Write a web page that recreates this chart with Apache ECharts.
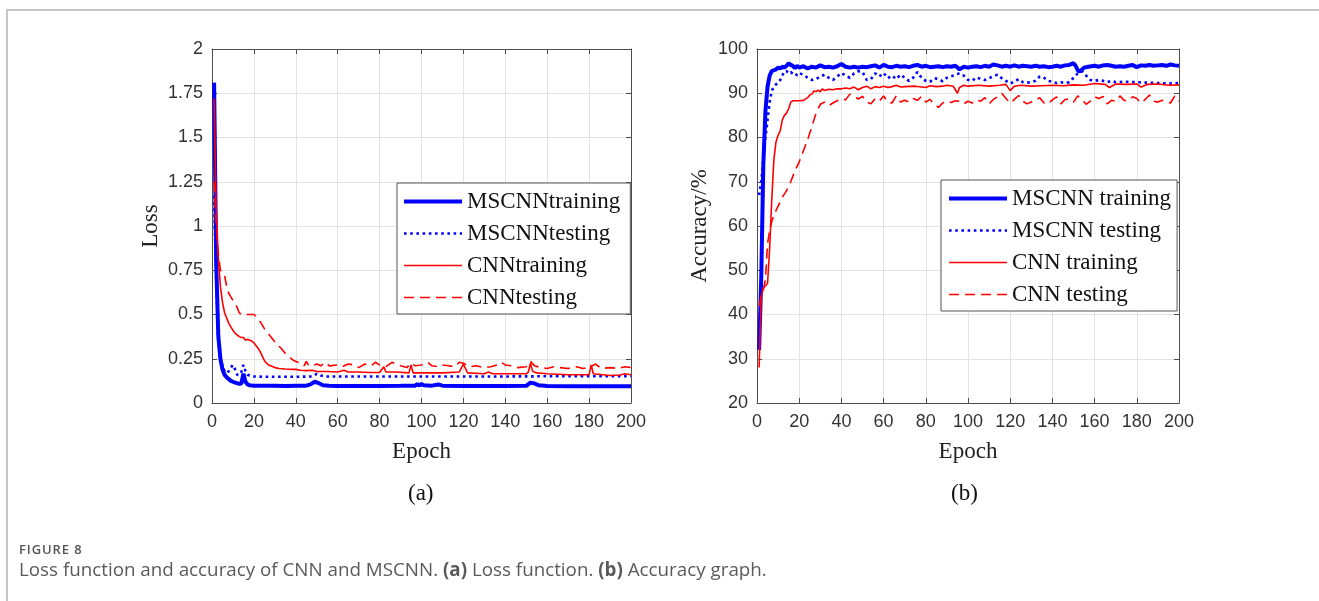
<!DOCTYPE html>
<html>
<head>
<meta charset="utf-8">
<script src="https://cdn.jsdelivr.net/npm/echarts@6/dist/echarts.min.js"></script>
<style>
  html, body { margin: 0; padding: 0; background: #fff; width: 1319px; height: 601px; overflow: hidden; }
  #frame { position: absolute; left: 6px; top: 9px; width: 1330px; height: 620px; border-top: 2px solid #c6c6c6; border-left: 2px solid #c6c6c6; }
  #chart { position: absolute; left: 0; top: 0; width: 1319px; height: 601px; }
  #figlabel { position: absolute; left: 19px; top: 540px; font-family: "Open Sans", "Noto Sans", sans-serif; font-size: 13px; font-weight: 600; color: #555; letter-spacing: 0.9px; }
  #caption { position: absolute; left: 19px; top: 556px; font-family: "Open Sans", "Noto Sans", sans-serif; font-size: 18.8px; color: #5a5a5a; }
  #caption b { font-weight: 700; }
</style>
</head>
<body>
<div id="frame"></div>
<div id="chart"></div>
<div id="figlabel">FIGURE 8</div>
<div id="caption">Loss function and accuracy of CNN and MSCNN. <b>(a)</b> Loss function. <b>(b)</b> Accuracy graph.</div>
<script>
// ---------- Data (epoch, value) ----------
const epochTicks = [0, 20, 40, 60, 80, 100, 120, 140, 160, 180, 200];
const lossTicks = [0, 0.25, 0.5, 0.75, 1, 1.25, 1.5, 1.75, 2];
const accTicks = [20, 30, 40, 50, 60, 70, 80, 90, 100];

const lossNames = ["MSCNNtraining", "MSCNNtesting", "CNNtraining", "CNNtesting"];
const accNames = ["MSCNN training", "MSCNN testing", "CNN training", "CNN testing"];

const lossMscnnTrain = [
  [1,1.81],[2,0.80],[3,0.38],[4,0.25],[5,0.19],[6,0.16],[7,0.145],[8,0.135],[9,0.125],[10,0.12],
  [11,0.115],[12,0.112],[13,0.108],[14,0.11],[15,0.165],[16,0.12],[17,0.105],[18,0.1],[20,0.098],[25,0.097],
  [30,0.097],[35,0.096],[40,0.097],[45,0.098],[47,0.105],[49,0.12],[51,0.112],[53,0.1],[56,0.097],[60,0.096],
  [70,0.096],[80,0.096],[90,0.097],[97,0.098],[98,0.107],[99,0.099],[100,0.108],[101,0.1],[105,0.098],[108,0.105],
  [110,0.098],[120,0.096],[130,0.096],[140,0.096],[150,0.097],[152,0.115],[154,0.11],[156,0.1],[160,0.096],[170,0.095],
  [180,0.095],[190,0.095],[200,0.095]
];
const lossMscnnTest = [
  [1,1.17],[2,0.7],[3,0.35],[4,0.26],[5,0.21],[6,0.18],[7,0.17],[8,0.18],[9,0.2],[10,0.215],
  [11,0.19],[12,0.16],[13,0.158],[14,0.175],[15,0.215],[16,0.18],[17,0.16],[18,0.155],[20,0.15],[25,0.148],
  [30,0.148],[40,0.148],[48,0.15],[50,0.165],[52,0.155],[55,0.15],[60,0.15],[80,0.15],[100,0.15],[120,0.15],
  [140,0.15],[160,0.151],[180,0.151],[200,0.152]
];
const lossCnnTrain = [
  [1,1.72],[2,1.1],[3,0.82],[4,0.66],[5,0.57],[6,0.51],[7,0.48],[8,0.45],[9,0.43],[10,0.41],
  [11,0.395],[12,0.385],[13,0.375],[14,0.37],[15,0.37],[16,0.355],[17,0.36],[18,0.355],[19,0.35],[20,0.34],
  [21,0.325],[22,0.31],[23,0.29],[24,0.265],[25,0.24],[26,0.225],[27,0.215],[28,0.21],[30,0.2],[32,0.195],
  [35,0.192],[38,0.19],[40,0.19],[42,0.185],[45,0.183],[48,0.185],[50,0.178],[55,0.178],[60,0.175],[63,0.185],
  [65,0.175],[70,0.175],[75,0.172],[80,0.172],[82,0.205],[83,0.175],[88,0.175],[94,0.17],[95,0.215],[96,0.17],
  [100,0.17],[110,0.17],[118,0.175],[120,0.22],[122,0.17],[130,0.165],[132,0.175],[134,0.165],[140,0.165],[150,0.165],
  [151,0.175],[152,0.225],[153,0.18],[155,0.17],[160,0.165],[170,0.16],[180,0.16],[181,0.215],[182,0.165],[190,0.155],
  [195,0.158],[197,0.165],[200,0.16]
];
const lossCnnTest = [
  [1,1.25],[2,1.0],[3,0.85],[4,0.75],[5,0.74],[6,0.72],[7,0.66],[8,0.62],[9,0.6],[10,0.58],
  [11,0.56],[12,0.54],[13,0.51],[14,0.5],[16,0.5],[18,0.5],[20,0.5],[21,0.49],[22,0.47],[23,0.46],
  [24,0.44],[25,0.42],[27,0.39],[29,0.36],[31,0.33],[33,0.31],[35,0.28],[37,0.26],[39,0.24],[41,0.23],
  [43,0.225],[44,0.21],[45,0.235],[46,0.215],[48,0.21],[50,0.22],[52,0.21],[54,0.23],[56,0.21],[60,0.215],
  [62,0.205],[65,0.22],[68,0.215],[70,0.2],[73,0.22],[76,0.21],[78,0.23],[80,0.215],[83,0.205],[86,0.23],
  [88,0.22],[90,0.21],[93,0.2],[95,0.225],[97,0.21],[100,0.215],[103,0.23],[105,0.21],[108,0.205],[110,0.215],
  [113,0.21],[116,0.205],[118,0.23],[120,0.225],[123,0.205],[126,0.21],[130,0.2],[133,0.205],[136,0.215],[138,0.23],
  [140,0.215],[143,0.21],[146,0.2],[150,0.205],[152,0.235],[154,0.21],[157,0.2],[160,0.195],[163,0.205],[166,0.2],
  [170,0.195],[174,0.205],[177,0.195],[180,0.2],[183,0.22],[186,0.195],[190,0.2],[194,0.195],[197,0.205],[200,0.2]
];

const accMscnnTrain = [
  [1,32],[2,48],[3,74],[4,86],[5,91.5],[6,94],[7,95],[8,95.2],[9,95.4],[10,95.8],
  [11,95.6],[12,96],[13,95.8],[14,96.2],[15,96.8],[16,96.4],[17,96.2],[18,95.7],[19,96.2],[20,95.8],
  [22,96.1],[24,95.6],[26,96],[28,95.8],[30,96.3],[32,95.9],[34,96],[36,95.8],[38,96.1],[40,96.6],
  [42,96],[44,95.8],[46,96],[48,95.8],[50,96],[52,95.9],[54,96.1],[56,96.3],[58,95.8],[60,96.4],
  [62,96],[64,95.9],[66,96.2],[68,96],[70,96.1],[72,95.9],[74,96.2],[76,96.4],[78,96],[80,96.2],
  [82,95.9],[84,96],[86,96.1],[88,95.9],[90,96.1],[92,96],[94,96.2],[96,95.4],[98,96],[100,95.8],
  [102,96],[104,96.1],[106,95.9],[108,96.2],[110,96],[112,96.5],[114,96.3],[116,96],[118,96.2],[120,96],
  [122,96.3],[124,96],[126,96.2],[128,96.1],[130,96],[132,96.2],[134,96],[136,96.1],[138,95.9],[140,96],
  [142,96.2],[144,96],[146,96.3],[148,96.4],[150,96.8],[151,96.2],[152,95.2],[153,94.9],[155,95.8],[157,96],
  [160,96.2],[162,96],[164,96.3],[166,96.4],[168,96.2],[170,96],[172,96.1],[174,96],[176,96.2],[178,96.4],
  [180,95.9],[182,96.3],[184,96.2],[186,96.4],[188,96.2],[190,96.3],[192,96.4],[194,96.2],[196,96.5],[198,96.3],
  [200,96.2]
];
const accMscnnTest = [
  [1,67],[2,70],[3,75],[4,80],[5,84],[6,88],[7,90.5],[8,91.5],[9,92],[10,92.3],
  [11,93],[12,94],[13,95],[14,95],[15,94.5],[16,94.8],[17,94.4],[18,94.6],[19,94],[20,94.5],
  [22,94.2],[24,93.5],[26,93],[28,93.2],[30,93.8],[32,94.2],[34,93.5],[36,93],[38,93.8],[40,94.6],
  [42,94],[44,93.5],[46,94.5],[48,95],[50,94.8],[52,93],[54,93.2],[56,94.5],[58,93.8],[60,94.6],
  [62,93.4],[64,94],[66,93.2],[68,94.2],[70,93.5],[72,92.8],[74,93.5],[76,94.8],[78,93.5],[80,92.8],
  [82,92.6],[84,93.4],[86,93.2],[88,92.7],[90,93.5],[92,93.8],[94,94.2],[96,94.5],[98,94],[100,93],
  [102,92.8],[104,93.6],[106,93.2],[108,93],[110,93.4],[112,93.8],[114,94.2],[116,93.4],[118,92.8],[120,92.2],
  [122,92.6],[124,93.2],[126,92.5],[128,92.4],[130,92.5],[132,92.8],[134,93.8],[136,93.5],[138,92.8],[140,92.6],
  [142,92.3],[144,92.5],[146,92.3],[148,92.5],[150,93.5],[152,94.5],[154,95],[156,94],[158,93],[160,92.8],
  [162,93],[164,92.8],[166,92.5],[168,92.8],[170,92.5],[175,92.6],[180,92.5],[185,92.4],[190,92.3],[195,92.2],
  [200,92.3]
];
const accCnnTrain = [
  [1,28],[2,44],[3,46],[4,46.5],[5,47],[6,55],[7,66],[8,75],[9,79],[10,80.5],
  [11,81.5],[12,84],[13,85],[14,85.5],[15,86.5],[16,88],[17,88.3],[18,88.3],[20,88.3],[22,88.4],
  [24,89],[25,89.6],[26,89.8],[27,90.5],[28,90.4],[29,90.7],[30,90.3],[31,91],[32,90.6],[34,90.9],
  [36,90.8],[38,91],[40,91],[42,91.2],[44,91],[46,91.4],[48,90.8],[50,91.3],[52,91.6],[54,91],
  [56,91.5],[58,91.3],[60,91.6],[62,91.3],[64,91.5],[66,91.8],[68,91.4],[70,91.5],[75,91.6],[80,91.3],
  [82,91.7],[85,91.5],[88,91.6],[90,91.8],[93,91.6],[95,90],[96,91.3],[98,91.8],[100,91.6],[105,91.8],
  [110,91.6],[115,91.8],[118,92],[120,90.6],[122,91.6],[125,91.8],[130,91.6],[135,91.7],[140,91.8],[145,91.7],
  [150,91.9],[155,91.8],[160,92.2],[165,92],[167,91.3],[170,92.1],[175,92],[180,92.1],[182,91.4],[185,92],
  [190,92.1],[195,91.8],[200,91.9]
];
const accCnnTest = [
  [1,42],[2,44],[3,45.5],[4,48],[5,56],[6,59],[7,61],[8,62.5],[9,63.5],[10,64.5],
  [12,66.5],[14,68],[16,70],[18,72.5],[20,74.5],[22,77],[24,79.5],[26,82.5],[28,85.5],[30,87.5],
  [32,88],[34,87.2],[36,87.8],[38,88.3],[40,88.8],[42,88.5],[44,89.8],[46,89.4],[48,88.7],[50,89.3],
  [52,88],[54,87.6],[56,88.8],[58,88.2],[60,89.4],[62,88],[64,87.8],[66,89.4],[68,88],[70,88.4],
  [72,88],[74,88.8],[76,88.4],[78,89.3],[80,88],[82,88.6],[84,87.5],[86,86.8],[88,87.8],[90,88.2],
  [92,87.9],[94,88.3],[96,88.2],[98,87.6],[100,88.2],[102,87.8],[104,88.5],[106,88.2],[108,89],[110,87.6],
  [112,88.6],[114,89.2],[116,90],[118,88.8],[120,87.8],[122,88.6],[124,89.5],[126,88.2],[128,87.6],[130,88],
  [132,88.4],[134,89],[136,87.8],[138,87.6],[140,88.5],[142,89.2],[144,87.6],[146,88.6],[148,88.7],[150,88],
  [152,89.4],[154,88.6],[156,87.5],[158,88.2],[160,89.2],[162,88.8],[164,89.3],[166,87.6],[168,88.4],[170,88.2],
  [172,89.4],[174,88.4],[176,88.3],[178,89.2],[180,88.8],[182,87.8],[184,88.6],[186,89.6],[188,88.2],[190,88],
  [192,88.4],[194,88],[196,87.8],[198,89.4],[200,88.2]
];

// ---------- Styles ----------
const BLUE = '#0000ff', RED = '#ff0000';
const AX = '#4d4d4d', GRIDC = '#e3e3e3', LBL = '#333333';
const SANS = 'Liberation Sans, Arial, sans-serif';
const SERIF = 'Liberation Serif, Times New Roman, serif';

const styles = [
  { color: BLUE, width: 4, type: 'solid' },
  { color: BLUE, width: 2.6, type: [2.6, 3.6] },
  { color: RED, width: 1.6, type: 'solid' },
  { color: RED, width: 1.6, type: [10, 6] }
];

function xAxes(gi) {
  return [
    { type: 'value', gridIndex: gi, min: epochTicks[0], max: epochTicks[epochTicks.length - 1],
      interval: epochTicks[1] - epochTicks[0],
      name: 'Epoch', nameLocation: 'middle', nameGap: 37,
      nameTextStyle: { fontFamily: SERIF, fontSize: 23, color: '#222' },
      axisLine: { show: true, onZero: false, lineStyle: { color: AX, width: 1 } },
      axisTick: { show: true, inside: true, length: 5, lineStyle: { color: AX } },
      axisLabel: { fontFamily: SANS, fontSize: 18, color: LBL, margin: 10 },
      splitLine: { show: true, lineStyle: { color: GRIDC, width: 1 } } },
    { type: 'value', gridIndex: gi, position: 'top', min: epochTicks[0], max: epochTicks[epochTicks.length - 1],
      interval: epochTicks[1] - epochTicks[0],
      axisLine: { show: true, onZero: false, lineStyle: { color: AX, width: 1 } },
      axisTick: { show: true, inside: true, length: 5, lineStyle: { color: AX } },
      axisLabel: { show: false }, splitLine: { show: false } }
  ];
}
function yAxes(gi, ticks, name, gap) {
  const lo = ticks[0], hi = ticks[ticks.length - 1], iv = ticks[1] - ticks[0];
  return [
    { type: 'value', gridIndex: gi, min: lo, max: hi, interval: iv,
      name: name, nameLocation: 'middle', nameGap: gap,
      nameTextStyle: { fontFamily: SERIF, fontSize: 23, color: '#222' },
      axisLine: { show: true, onZero: false, lineStyle: { color: AX, width: 1 } },
      axisTick: { show: true, inside: true, length: 5, lineStyle: { color: AX } },
      axisLabel: { fontFamily: SANS, fontSize: 18, color: LBL, margin: 9 },
      splitLine: { show: true, lineStyle: { color: GRIDC, width: 1 } } },
    { type: 'value', gridIndex: gi, position: 'right', min: lo, max: hi, interval: iv,
      axisLine: { show: true, onZero: false, lineStyle: { color: AX, width: 1 } },
      axisTick: { show: true, inside: true, length: 5, lineStyle: { color: AX } },
      axisLabel: { show: false }, splitLine: { show: false } }
  ];
}

const lossData = [lossMscnnTrain, lossMscnnTest, lossCnnTrain, lossCnnTest];
const accData = [accMscnnTrain, accMscnnTest, accCnnTrain, accCnnTest];

const series = [];
lossData.forEach((d, i) => series.push({
  name: lossNames[i], type: 'line', xAxisIndex: 0, yAxisIndex: 0, data: d,
  symbol: 'none', showSymbol: false, smooth: false, clip: true,
  lineStyle: { color: styles[i].color, width: styles[i].width, type: styles[i].type },
  itemStyle: { color: styles[i].color }
}));
accData.forEach((d, i) => series.push({
  name: accNames[i], type: 'line', xAxisIndex: 2, yAxisIndex: 2, data: d,
  symbol: 'none', showSymbol: false, smooth: false, clip: true,
  lineStyle: { color: styles[i].color, width: styles[i].width, type: styles[i].type },
  itemStyle: { color: styles[i].color }
}));

function legendItems(names) {
  return names.map((n, i) => ({
    name: n,
    itemStyle: { opacity: 0 },
    lineStyle: { color: styles[i].color, width: styles[i].width, type: styles[i].type }
  }));
}

const legendCommon = {
  orient: 'vertical', itemWidth: 58, itemHeight: 14, itemGap: 9,
  backgroundColor: '#ffffff', borderColor: '#555', borderWidth: 1,
  textStyle: { fontFamily: SERIF, fontSize: 23, color: '#111', lineHeight: 23 },
  itemStyle: { opacity: 0 },
  selectedMode: false
};

const option = {
  animation: false,
  backgroundColor: 'transparent',
  grid: [
    { left: 212, top: 49, width: 419, height: 354 },
    { left: 757, top: 49, width: 422, height: 354 }
  ],
  xAxis: [...xAxes(0), ...xAxes(1)],
  yAxis: [...yAxes(0, lossTicks, 'Loss', 50), ...yAxes(1, accTicks, 'Accuracy/%', 46)],
  legend: [
    Object.assign({}, legendCommon, { data: legendItems(lossNames), left: 397, top: 183, padding: [7, 10, 5, 5] }),
    Object.assign({}, legendCommon, { data: legendItems(accNames), left: 941, top: 180, padding: [7, 6, 5, 6] })
  ],
  graphic: [
    { type: 'text', left: 408, top: 482, style: { text: '(a)', font: '23px ' + SERIF, fill: '#111' } },
    { type: 'text', left: 951, top: 482, style: { text: '(b)', font: '23px ' + SERIF, fill: '#111' } }
  ],
  series: series
};

const chart = echarts.init(document.getElementById('chart'), null, { renderer: 'canvas' });
chart.setOption(option);
</script>
</body>
</html>
